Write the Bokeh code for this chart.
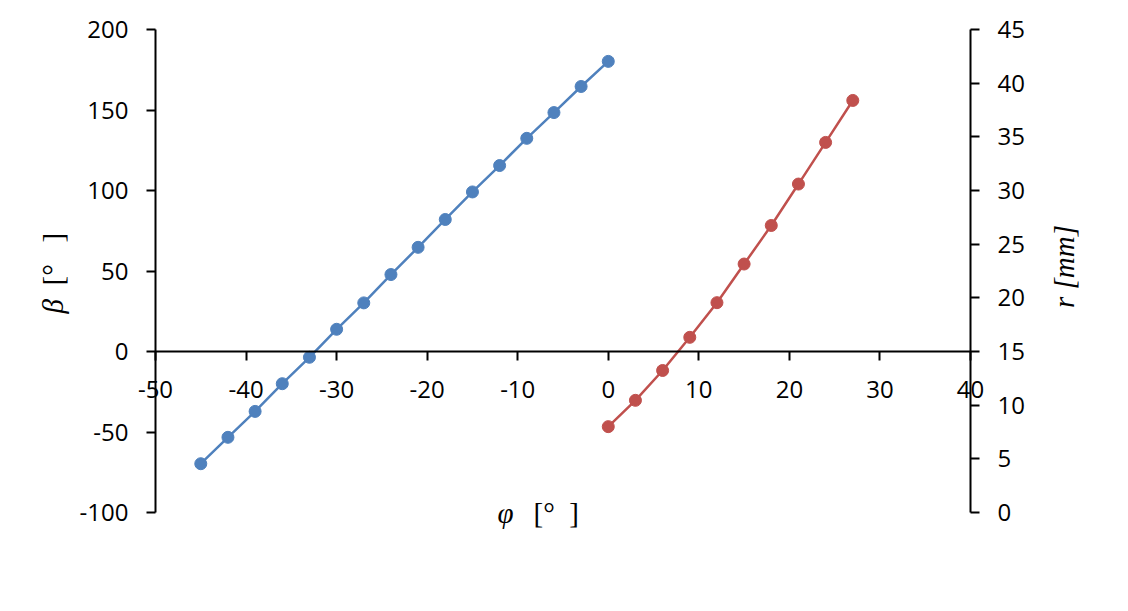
import math
from bokeh.plotting import figure
from bokeh.models import Range1d, LinearAxis, FixedTicker, CustomJSTickFormatter, Label
from bokeh.embed import file_html
from bokeh.resources import INLINE

# ---- data ----
phi_beta = [-45, -42, -39, -36, -33, -30, -27, -24, -21, -18, -15, -12, -9, -6, -3, 0]
beta = [-69.7, -53.3, -37.2, -20.0, -3.6, 13.8, 30.2, 47.8, 64.7, 82.0, 99.1, 115.5, 132.4, 148.4, 164.6, 180.2]

phi_r = [0, 3, 6, 9, 12, 15, 18, 21, 24, 27]
r_mm = [8.0, 10.45, 13.23, 16.32, 19.55, 23.15, 26.74, 30.6, 34.48, 38.39]

x_ticks = [-50, -40, -30, -20, -10, 0, 10, 20, 30, 40]
beta_ticks = [-100, -50, 0, 50, 100, 150, 200]
r_ticks = [0, 5, 10, 15, 20, 25, 30, 35, 40, 45]

x_sym, x_unit = "φ", "[°\u00a0\u00a0]"
beta_sym, beta_unit = "β", "[°\u00a0\u00a0\u00a0]"
r_label = "r\u00a0[mm]"

BLUE = "#4F81BD"
RED = "#C0504D"

# ---- layout (pixels of the canvas) ----
W, H = 1120, 598
AX_L, AX_R, AX_T, AX_B = 155, 970, 29, 512   # where the axes are drawn

x0, x1 = x_ticks[0], x_ticks[-1]
b0, b1 = beta_ticks[0], beta_ticks[-1]
r0, r1 = r_ticks[0], r_ticks[-1]

sx = (AX_R - AX_L) / (x1 - x0)
sb = (AX_B - AX_T) / (b1 - b0)
sr = (AX_B - AX_T) / (r1 - r0)

x_range = Range1d(x0 - AX_L / sx, x1 + (W - AX_R) / sx)
y_range = Range1d(b0 - (H - AX_B) / sb, b1 + AX_T / sb)
r_range = Range1d(r0 - (H - AX_B) / sr, r1 + AX_T / sr)


def px_to_x(px):
    return x0 + (px - AX_L) / sx


def py_to_b(py):
    return b1 - (py - AX_T) / sb


p = figure(width=W, height=H, x_range=x_range, y_range=y_range,
           output_backend="svg", toolbar_location=None,
           min_border=0, min_border_left=0, min_border_right=0,
           min_border_top=0, min_border_bottom=0)
p.extra_y_ranges = {"r": r_range}
p.outline_line_color = None
p.grid.visible = False
p.background_fill_color = "white"
p.border_fill_color = "white"

r_axis = LinearAxis(y_range_name="r", ticker=FixedTicker(ticks=r_ticks))
p.add_layout(r_axis, "right")

p.xaxis.ticker = FixedTicker(ticks=x_ticks)
p.xaxis.fixed_location = 0
p.xaxis.bounds = (x0, x1)

p.yaxis[0].ticker = FixedTicker(ticks=beta_ticks)
p.yaxis[0].fixed_location = x0
p.yaxis[0].bounds = (b0, b1)

r_axis.fixed_location = x1
r_axis.bounds = (r0, r1)

fmt_code = "return String(tick);"


def style(ax, standoff):
    ax.axis_line_color = "black"
    ax.axis_line_width = 2
    ax.major_tick_line_color = "black"
    ax.major_tick_line_width = 2
    ax.major_tick_out = 9
    ax.major_tick_in = 0
    ax.minor_tick_line_color = None
    ax.major_label_text_font = "Open Sans"
    ax.major_label_text_font_size = "24px"
    ax.major_label_text_color = "black"
    ax.major_label_standoff = standoff
    ax.formatter = CustomJSTickFormatter(code=fmt_code)


for ax in p.xaxis:
    style(ax, 20)
for ax in p.yaxis:
    style(ax, 18)

# series
p.line(phi_beta, beta, line_color=BLUE, line_width=2.5)
p.scatter(phi_beta, beta, size=12, fill_color=BLUE, line_color=BLUE)
p.line(phi_r, r_mm, line_color=RED, line_width=2.5, y_range_name="r")
p.scatter(phi_r, r_mm, size=12, fill_color=RED, line_color=RED, y_range_name="r")

# axis titles
base = dict(text_font="Liberation Serif", text_font_size="29px",
            text_color="black", text_baseline="middle")
ital = dict(base, text_font_style="italic")
upr = dict(base, text_font_style="normal")

p.add_layout(Label(x=px_to_x(497), y=py_to_b(512), text=x_sym, text_align="left", **ital))
p.add_layout(Label(x=px_to_x(533), y=py_to_b(512), text=x_unit, text_align="left", **upr))

p.add_layout(Label(x=px_to_x(52), y=py_to_b(313), angle=math.pi / 2, text=beta_sym,
                   text_align="left", **ital))
p.add_layout(Label(x=px_to_x(52), y=py_to_b(285), angle=math.pi / 2, text=beta_unit,
                   text_align="left", **upr))

p.add_layout(Label(x=px_to_x(1063), y=py_to_b(266), angle=math.pi / 2, text=r_label,
                   text_align="center", **ital))

open("out.html", "w").write(file_html(p, INLINE))
